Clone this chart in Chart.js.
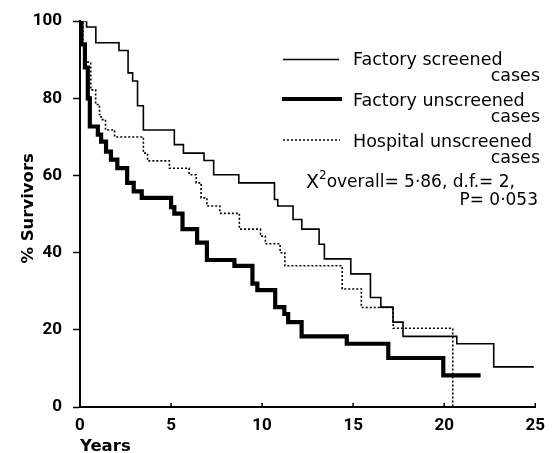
<!DOCTYPE html>
<html><head><meta charset="utf-8">
<script src="https://cdn.jsdelivr.net/npm/chart.js@4/dist/chart.umd.min.js"></script>
<style>html,body{margin:0;padding:0;background:#fff;}</style>
</head><body>
<canvas id="c" width="554" height="453"></canvas>
<script>
// ---- data ----
const seriesNames = ['Factory screened', 'Factory unscreened', 'Hospital unscreened'];
const fsYears = [0, 0.36, 0.87, 2.14, 2.64, 2.89, 3.16, 3.48, 5.18, 5.68, 6.81, 7.34, 8.72, 10.68, 10.86, 11.7, 12.18, 13.13, 13.42, 14.87, 15.95, 16.52, 17.19, 17.74, 20.69, 22.72, 24.92];
const fsPct   = [100, 98.5, 94.4, 92.4, 86.6, 84.5, 78.1, 71.8, 68.0, 65.8, 63.9, 60.2, 58.1, 53.8, 52.1, 48.6, 46.1, 42.2, 38.4, 34.5, 28.4, 25.9, 22.0, 18.3, 16.4, 10.4, 10.4];
const fuYears = [0, 0.08, 0.27, 0.43, 0.54, 0.98, 1.16, 1.43, 1.70, 2.05, 2.59, 2.95, 3.39, 5.0, 5.18, 5.63, 6.43, 6.97, 8.48, 9.47, 9.74, 10.72, 11.22, 11.43, 12.17, 14.65, 16.93, 19.95, 22.0];
const fuPct   = [100, 94, 88, 80, 72.7, 70.6, 68.8, 66.2, 64.1, 61.9, 58.1, 55.9, 54.2, 51.8, 50.1, 46.1, 42.6, 38.1, 36.6, 32.0, 30.3, 25.9, 24.1, 22.0, 18.3, 16.4, 12.7, 8.2, 8.2];
const huYears = [0, 0.16, 0.32, 0.59, 0.86, 1.07, 1.16, 1.4, 1.9, 3.48, 3.71, 4.91, 5.99, 6.38, 6.65, 6.97, 7.68, 8.75, 9.91, 10.18, 10.99, 11.25, 14.4, 15.45, 17.2, 20.47];
const huPct   = [100, 94, 89.4, 82.2, 78.4, 75.8, 74.5, 71.8, 70.0, 65.8, 63.8, 61.9, 60.2, 58.1, 54.2, 52.1, 50.2, 46.1, 44.3, 42.3, 40.0, 36.6, 30.6, 25.8, 20.4, 0];
const xTicks = [0, 5, 10, 15, 20, 25];
const yTicks = [0, 20, 40, 60, 80, 100];
const statLine1 = ['X', '2', 'overall= 5·86, d.f.= 2,'];
const statLine2 = 'P= 0·053';

const TXT = '"DejaVu Sans"';
const pts = (xs, ys) => xs.map((x, i) => ({x: x, y: ys[i]}));

const legendPlugin = {
  id: 'legendDraw',
  afterDraw(chart) {
    const ctx = chart.ctx;
    const xs = chart.scales.x;
    ctx.save();
    // inward x ticks
    ctx.strokeStyle = '#000'; ctx.lineWidth = 1.5;
    xTicks.forEach(v => {
      const px = xs.getPixelForValue(v);
      ctx.beginPath(); ctx.moveTo(px, chart.chartArea.bottom); ctx.lineTo(px, chart.chartArea.bottom - 4); ctx.stroke();
    });
    // legend samples
    const samples = [
      {y: 59.5, w: 1.6, dash: [], x0: 283, x1: 339},
      {y: 99, w: 4, dash: [], x0: 282, x1: 342},
      {y: 140, w: 1.5, dash: [2, 2], x0: 283, x1: 340}
    ];
    samples.forEach(s => {
      ctx.lineWidth = s.w; ctx.setLineDash(s.dash);
      ctx.beginPath(); ctx.moveTo(s.x0, s.y); ctx.lineTo(s.x1, s.y); ctx.stroke();
    });
    ctx.setLineDash([]);
    ctx.fillStyle = '#000';
    ctx.textBaseline = 'middle';
    ctx.font = '17.5px ' + TXT;
    const rows = [60, 101, 142];
    seriesNames.forEach((n, i) => {
      ctx.textAlign = 'left';
      ctx.fillText(n, 353, rows[i]);
      ctx.textAlign = 'right';
      ctx.fillText('cases', 540, rows[i] + 16.5);
    });
    // statistic
    ctx.textAlign = 'left';
    ctx.font = '19px ' + TXT;
    let x = 306;
    ctx.fillText(statLine1[0], x, 183);
    x += ctx.measureText(statLine1[0]).width;
    ctx.font = '12px ' + TXT;
    ctx.fillText(statLine1[1], x, 176);
    x += ctx.measureText(statLine1[1]).width;
    ctx.font = '17px ' + TXT;
    ctx.fillText(statLine1[2], x, 183);
    ctx.textAlign = 'right';
    ctx.fillText(statLine2, 538, 201);
    ctx.restore();
  }
};

const tickFont = {family: 'Roboto', size: 17, weight: 'bold'};
new Chart(document.getElementById('c'), {
  type: 'line',
  data: {
    datasets: [
      {label: seriesNames[0], data: pts(fsYears, fsPct), borderColor: '#000', borderWidth: 1.6, stepped: 'before'},
      {label: seriesNames[1], data: pts(fuYears, fuPct), borderColor: '#000', borderWidth: 4.2, stepped: 'before'},
      {label: seriesNames[2], data: pts(huYears, huPct), borderColor: '#000', borderWidth: 1.6, borderDash: [2, 2], stepped: 'before'}
    ]
  },
  options: {
    responsive: false,
    animation: false,
    devicePixelRatio: 1,
    layout: {padding: {top: 19, right: 10, left: 0, bottom: 0}},
    elements: {point: {radius: 0}, line: {tension: 0, borderCapStyle: 'butt', borderJoinStyle: 'miter'}},
    plugins: {legend: {display: false}, tooltip: {enabled: false}},
    scales: {
      x: {
        type: 'linear', min: 0, max: 25,
        afterBuildTicks: s => { s.ticks = xTicks.map(v => ({value: v})); },
        ticks: {font: tickFont, color: '#000', padding: 9, maxRotation: 0},
        grid: {drawOnChartArea: false, drawTicks: false},
        border: {display: true, color: '#000', width: 2},
        title: {display: true, text: 'Years', align: 'start', font: {family: TXT, size: 16.5, weight: 'bold', lineHeight: 0.8}, color: '#000', padding: {top: 0, bottom: 0}},
        afterFit: s => { s.height = 46; }
      },
      y: {
        type: 'linear', min: 0, max: 100,
        afterBuildTicks: s => { s.ticks = yTicks.map(v => ({value: v})); },
        ticks: {font: tickFont, color: '#000', padding: 11},
        grid: {drawOnChartArea: false, drawTicks: true, tickLength: 7, tickColor: '#000', tickWidth: 1.5},
        border: {display: true, color: '#000', width: 2},
        title: {display: true, text: '  % Survivors', font: {family: TXT, size: 16.5, weight: 'bold', lineHeight: 1}, color: '#000', padding: {top: 20, bottom: 0}},
        afterFit: s => { s.width = 80; }
      }
    }
  },
  plugins: [legendPlugin]
});
</script>
</body></html>
